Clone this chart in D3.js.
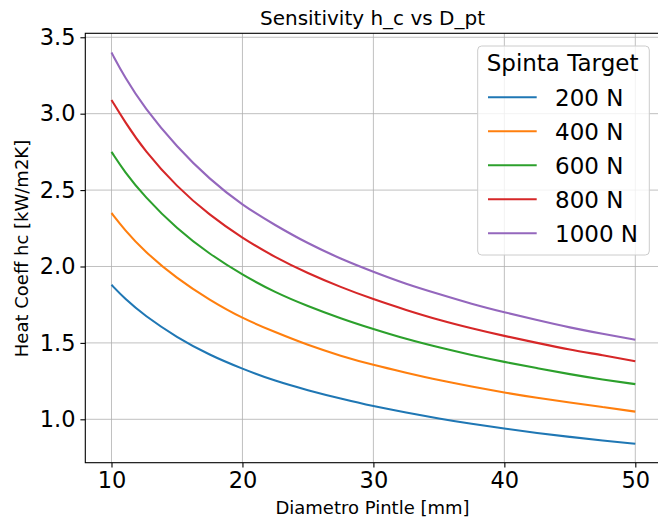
<!DOCTYPE html>
<html>
<head>
<meta charset="utf-8">
<script src="https://cdn.jsdelivr.net/npm/d3@7"></script>
<style>
body { margin: 0; background: #fff; }
svg { font-family: "DejaVu Sans", sans-serif; }
</style>
</head>
<body>
<script>
"use strict";
// values
const diameters = [10, 11, 12.5, 15, 17.5, 20, 22.5, 25, 27.5, 30, 32.5, 35, 37.5, 40, 42.5, 45, 47.5, 50];
const targets = ["200 N", "400 N", "600 N", "800 N", "1000 N"];
const hc200 = [1.88, 1.79, 1.68, 1.535, 1.42, 1.33, 1.25, 1.19, 1.135, 1.085, 1.045, 1.005, 0.97, 0.94, 0.91, 0.885, 0.86, 0.84];
const hc400 = [2.35, 2.24, 2.10, 1.92, 1.78, 1.66, 1.57, 1.485, 1.415, 1.355, 1.305, 1.255, 1.215, 1.175, 1.14, 1.11, 1.08, 1.05];
const hc600 = [2.75, 2.62, 2.46, 2.245, 2.08, 1.945, 1.83, 1.74, 1.66, 1.59, 1.525, 1.47, 1.42, 1.375, 1.335, 1.295, 1.26, 1.23];
const hc800 = [3.09, 2.95, 2.76, 2.52, 2.335, 2.185, 2.06, 1.955, 1.865, 1.785, 1.715, 1.65, 1.595, 1.545, 1.50, 1.455, 1.42, 1.38];
const hc1000 = [3.40, 3.24, 3.04, 2.78, 2.57, 2.40, 2.27, 2.15, 2.05, 1.965, 1.885, 1.82, 1.755, 1.70, 1.65, 1.60, 1.56, 1.52];
const xTicks = [10, 20, 30, 40, 50];
const yTicks = [1.0, 1.5, 2.0, 2.5, 3.0, 3.5];
const colors = ["#1f77b4", "#ff7f0e", "#2ca02c", "#d62728", "#9467bd"];

const series = [hc200, hc400, hc600, hc800, hc1000].map((v, i) => ({
	name: targets[i],
	color: colors[i],
	points: diameters.map((d, j) => [d, v[j]])
}));

const width = 658, height = 523;
const plot = {left: 85.3, right: 661.5, top: 33.3, bottom: 462.7};

const svg = d3.select("body").append("svg").attr("width", width).attr("height", height);

const x = d3.scaleLinear().domain([8, 52]).range([plot.left, plot.right]);
const y = d3.scaleLinear().domain([0.716, 3.526]).range([plot.bottom, plot.top]);

// grid
svg.append("g").selectAll("line").data(xTicks).enter().append("line")
	.attr("x1", d => x(d)).attr("x2", d => x(d))
	.attr("y1", plot.top).attr("y2", plot.bottom)
	.attr("stroke", "#b0b0b0").attr("stroke-width", 0.8);
svg.append("g").selectAll("line").data(yTicks).enter().append("line")
	.attr("x1", plot.left).attr("x2", plot.right)
	.attr("y1", d => y(d)).attr("y2", d => y(d))
	.attr("stroke", "#b0b0b0").attr("stroke-width", 0.8);

// curves
const line = d3.line().x(d => x(d[0])).y(d => y(d[1])).curve(d3.curveBasis);
svg.append("g").selectAll("path").data(series).enter().append("path")
	.attr("d", d => line(d.points))
	.attr("fill", "none")
	.attr("stroke", d => d.color)
	.attr("stroke-width", 2.1);

// axes
const xAxis = d3.axisBottom(x).tickValues(xTicks).tickFormat(d3.format("d")).tickSize(4.9).tickPadding(4.9);
const gx = svg.append("g").attr("transform", "translate(0," + plot.bottom + ")").call(xAxis);
const yAxis = d3.axisLeft(y).tickValues(yTicks).tickFormat(d3.format(".1f")).tickSize(4.9).tickPadding(4.9);
const gy = svg.append("g").attr("transform", "translate(" + plot.left + ",0)").call(yAxis);
[gx, gy].forEach(g => {
	g.select(".domain").remove();
	g.selectAll(".tick line").attr("stroke", "#000").attr("stroke-width", 1.1);
	g.selectAll(".tick text").attr("font-family", "DejaVu Sans").attr("font-size", 22.5).attr("fill", "#000");
});

// spines
svg.append("rect")
	.attr("x", plot.left).attr("y", plot.top)
	.attr("width", plot.right - plot.left).attr("height", plot.bottom - plot.top)
	.attr("fill", "none").attr("stroke", "#000").attr("stroke-width", 1.1);

// labels
svg.append("text").attr("x", 372.5).attr("y", 25)
	.attr("text-anchor", "middle").attr("font-size", 20).text("Sensitivity h_c vs D_pt");
svg.append("text").attr("x", 372.5).attr("y", 514)
	.attr("text-anchor", "middle").attr("font-size", 18).text("Diametro Pintle [mm]");
svg.append("text").attr("transform", "translate(28,248.5) rotate(-90)")
	.attr("text-anchor", "middle").attr("font-size", 18).text("Heat Coeff hc [kW/m2K]");

// legend
const legend = svg.append("g");
legend.append("rect")
	.attr("x", 477.7).attr("y", 46).attr("width", 171.6).attr("height", 209)
	.attr("rx", 4).attr("fill", "#fff").attr("fill-opacity", 0.8)
	.attr("stroke", "#cccccc").attr("stroke-width", 1);
legend.append("text").attr("x", 486.7).attr("y", 70.7).attr("font-size", 23).text("Spinta Target");
const items = legend.selectAll("g.item").data(series).enter().append("g").attr("class", "item")
	.attr("transform", (d, i) => "translate(0," + (97.3 + i * 34) + ")");
items.append("line").attr("x1", 488).attr("x2", 536.7)
	.attr("stroke", d => d.color).attr("stroke-width", 2.1);
items.append("text").attr("x", 555).attr("y", 8.5).attr("font-size", 23).text(d => d.name);
</script>
</body>
</html>
